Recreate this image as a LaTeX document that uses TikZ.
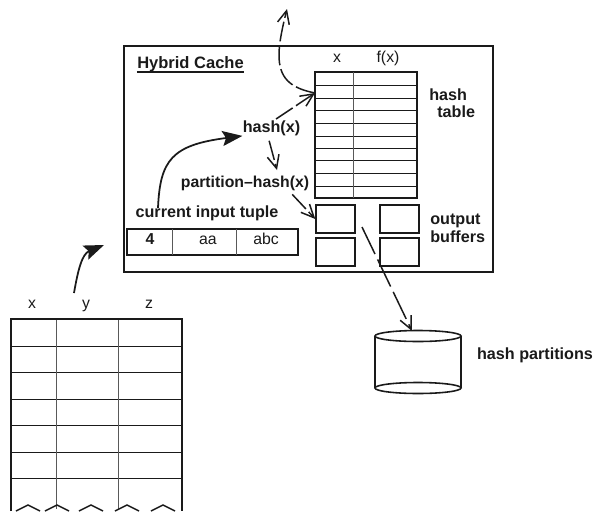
\documentclass[tikz,border=0pt]{standalone}
\usepackage{fontspec}
\setmainfont{Liberation Sans}
\usepackage{xcolor}
\definecolor{ink}{HTML}{1A1A1A}
\usepackage{tikz}
\usetikzlibrary{arrows.meta}

\begin{document}
\begin{tikzpicture}[
  x=0.02cm, y=-0.02cm,
  color=ink,
  plain/.style={inner sep=0pt, anchor=base, font=\fontsize{9}{11}\selectfont},
  strong/.style={inner sep=0pt, font=\fontsize{9.2}{11}\selectfont\bfseries},
  framebox/.style={draw, line width=0.8pt, inner sep=0pt},
  rowline/.style={line width=0.45pt},
  colline/.style={line width=0.45pt, black!65},
  solidhead/.style={-{Stealth[length=4mm, width=3mm, inset=0.7mm]}, line width=1pt},
  dashhead/.style={-{Straight Barb[length=2.6mm, width=2.4mm]}, line width=0.85pt,
    dash pattern=on 20*0.02cm off 4*0.02cm}
]
  \useasboundingbox (0,0) rectangle (595,511);

  % cache frame and its title
  \node[framebox, minimum width=7.38cm, minimum height=4.52cm] (cache) at (308.5,159) {};
  \node[strong, font=\fontsize{9.4}{11}\selectfont\bfseries] (title) at (190.5,64) {Hybrid Cache};
  \draw[line width=0.8pt] (title.south west) -- (title.south east);

  % hash table
  \node[framebox, minimum width=2.04cm, minimum height=2.52cm] (hashtable) at (366,135) {};
  \foreach \y in {85,98,110,123,136,148,160,173,186}
    \draw[rowline] (315,\y) -- (417,\y);
  \draw[colline] (353,72) -- (353,198);
  \node[plain] (keyhead) at (337,62) {x};
  \node[plain] (valhead) at (388,62) {f(x)};
  \node[strong, anchor=west] (hashword) at (429,95) {hash};
  \node[strong, anchor=west] (tableword) at (437,112) {table};

  % output buffers
  \node[framebox, minimum width=0.78cm, minimum height=0.56cm] (bufa) at (335.5,219) {};
  \node[framebox, minimum width=0.78cm, minimum height=0.56cm] (bufb) at (399.5,219) {};
  \node[framebox, minimum width=0.78cm, minimum height=0.56cm] (bufc) at (335.5,252) {};
  \node[framebox, minimum width=0.78cm, minimum height=0.56cm] (bufd) at (399.5,252) {};
  \node[strong, anchor=west] (outword) at (430,221) {output};
  \node[strong, anchor=west] (bufword) at (430,237) {buffers};

  % input tuple
  \node[strong] (tuplelabel) at (207,213) {current input tuple};
  \node[framebox, line width=1.2pt, minimum width=3.42cm, minimum height=0.52cm] (tuple) at (212.5,242) {};
  \draw[colline] (172,229) -- (172,255);
  \draw[colline] (236,229) -- (236,255);
  \node[plain] (cellx) at (150,244) {\bfseries 4};
  \node[plain] (celly) at (208,244) {aa};
  \node[plain] (cellz) at (266,244) {abc};

  % hash functions
  \node[strong] (hashlabel) at (271.5,128) {hash(x)};
  \node[strong, font=\fontsize{9}{11}\selectfont\bfseries] (partlabel) at (245,183) {partition–hash(x)};

  % source relation
  \node[plain] (colx) at (32,308) {x};
  \node[plain] (coly) at (86,308) {y};
  \node[plain] (colz) at (149,308) {z};
  \foreach \y in {346,372,399,425,452,478}
    \draw[rowline] (11,\y) -- (182,\y);
  \draw[colline] (56,319) -- (56,509);
  \draw[colline] (118,319) -- (118,509);
  \draw[line width=0.8pt] (11,511) |- (182,319) -- (182,511);
  \foreach \p in {28,57,91,127,163}
    \draw[line width=0.8pt] (\p-12,511) -- (\p,505) -- (\p+12,511);

  % disk
  \draw[line width=0.8pt] (375,336) -- (375,388);
  \draw[line width=0.8pt] (461,336) -- (461,388);
  \draw[line width=0.9pt, fill=white] (418,336) ellipse [x radius=43, y radius=5.5];
  \draw[line width=0.9pt] (418,388) ellipse [x radius=43, y radius=5.5];
  \node[strong] (disklabel) at (535,355) {hash partitions};

  % connector ends
  \coordinate (tablein) at (315,93);
  \coordinate (cacheout) at (287,9);
  \coordinate (tuplestart) at (158,208);
  \coordinate (parttop) at (277,170);
  \coordinate (bufout) at (362,227);
  \coordinate (disktop) at (412,331);
  \coordinate (srcout) at (74,293);
  \coordinate (cachein) at (104,245);

  \draw[solidhead] (tuplestart) .. controls (160,160) and (172,145) .. (hashlabel.south west);
  \draw[solidhead] (srcout) .. controls (78,270) and (82,254) .. (cachein);
  \draw[dashhead, shorten <=0.04cm] (hashlabel.70) -- (tablein);
  \draw[dashhead, shorten <=0.1cm] (hashlabel.-115) -- (parttop);
  \draw[dashhead, shorten <=0.1cm] (partlabel.-10) -- (bufa.west);
  \draw[dashhead, dash pattern=on 0.6cm off 0.12cm] (bufout) -- (disktop);
  \draw[dashhead] (tablein) .. controls (290,88) and (279,78) .. (279,55)
    .. controls (279,42) and (283,25) .. (cacheout);
\end{tikzpicture}
\end{document}
